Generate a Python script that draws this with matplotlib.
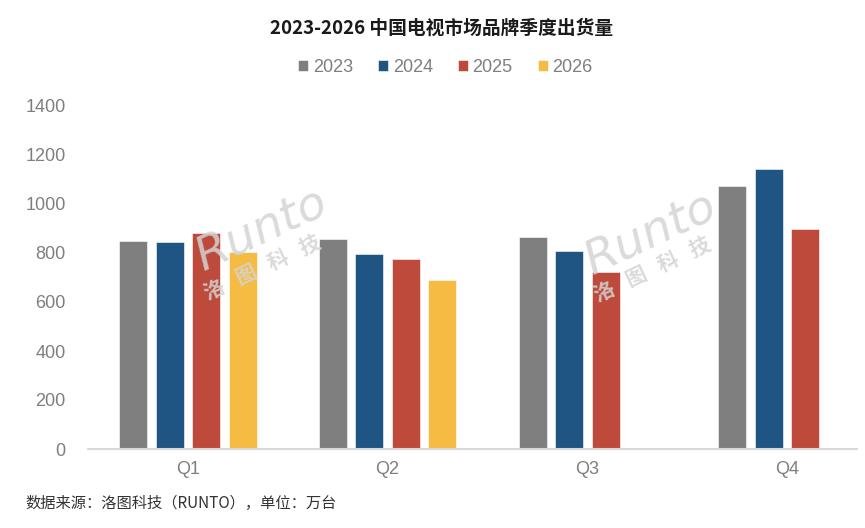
import matplotlib.pyplot as plt
import numpy as np

plt.rcParams['font.family'] = ['Liberation Sans', 'Noto Sans CJK SC', 'DejaVu Sans']

quarters = ['Q1', 'Q2', 'Q3', 'Q4']
years = ['2023', '2024', '2025', '2026']
s2023 = [850, 857, 867, 1075]
s2024 = [844, 795, 809, 1142]
s2025 = [883, 777, 724, 897]
s2026 = [805, 689, np.nan, np.nan]
series = [s2023, s2024, s2025, s2026]
colors = ['#7f7f7f', '#1f5582', '#bd4a3a', '#f6bb42']

fig = plt.figure(figsize=(8.65, 5.28), dpi=100)
ax = fig.add_axes([88 / 865, 1 - 449 / 528, 769 / 865, (449 - 106) / 528])

x = np.arange(len(quarters))
width = 0.14
step = 0.1825
for i, (vals, c, lab) in enumerate(zip(series, colors, years)):
    ax.bar(x + (i - 1.5) * step, vals, width=width, color=c, label=lab,
           edgecolor='white', linewidth=0.4, zorder=2)

ax.set_xlim(-0.5, 3.35)
ax.set_ylim(0, 1400)
ax.set_yticks(range(0, 1401, 200))
ax.set_xticks(x)
ax.set_xticklabels(quarters)
ax.tick_params(axis='both', length=0, labelsize=13, labelcolor='#7f7f7f')
ax.tick_params(axis='y', pad=16)
ax.tick_params(axis='x', pad=9)
for s in ['top', 'right', 'left']:
    ax.spines[s].set_visible(False)
ax.spines['bottom'].set_color('#d9d9d9')
ax.spines['bottom'].set_linewidth(1.5)

# watermarks
for (rx, ry), (cx, cy) in [((0.303, 0.566), (0.303, 0.494)),
                           ((0.752, 0.557), (0.754, 0.489))]:
    fig.text(rx, ry, 'Runto', fontsize=34, style='italic',
             color='#d4d4d4', alpha=0.85, rotation=25, ha='center', va='center',
             family='DejaVu Sans', zorder=5)
    fig.text(cx, cy, '洛   图   科   技', fontsize=15, fontweight='bold',
             color='#d4d4d4', alpha=0.85, rotation=25, ha='center', va='center',
             family='Noto Sans CJK SC', zorder=5)

fig.text(0.51, 1 - 28 / 528, '2023-2026 中国电视市场品牌季度出货量', ha='center', va='center',
         fontsize=13.5, fontweight='bold', color='#1a1a1a',
         family=['Noto Sans CJK SC', 'DejaVu Sans'])

leg = fig.legend(loc='center', bbox_to_anchor=(0.515, 1 - 67 / 528), ncol=4,
                 frameon=False, fontsize=13, handlelength=0.55, handleheight=0.55,
                 handletextpad=0.25, columnspacing=1.4)
for t in leg.get_texts():
    t.set_color('#7f7f7f')

fig.text(25 / 865, 1 - 503 / 528, '数据来源：洛图科技（RUNTO），单位：万台', ha='left', va='center',
         fontsize=11, color='#333333', family=['Noto Sans CJK SC', 'DejaVu Sans'])

fig.savefig('out.png', dpi=100)
